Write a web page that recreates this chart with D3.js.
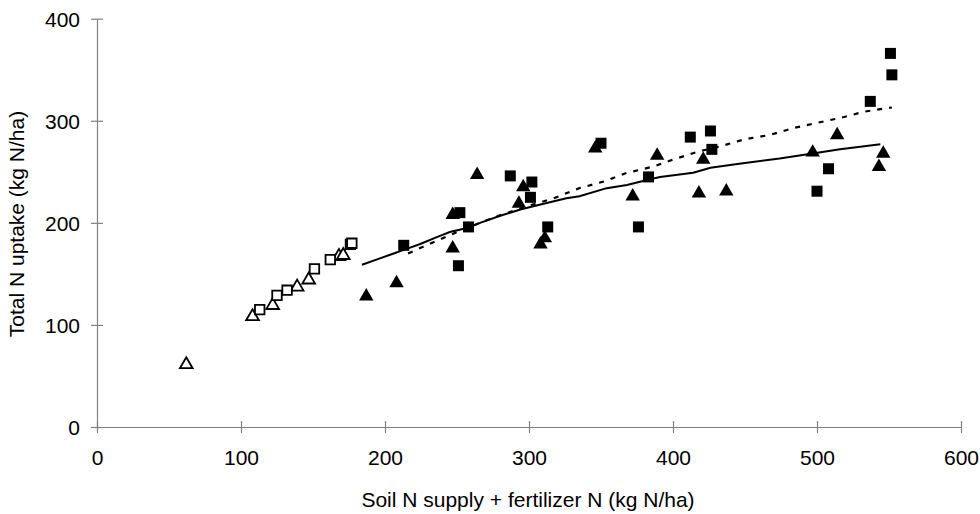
<!DOCTYPE html>
<html>
<head>
<meta charset="utf-8">
<script src="https://cdn.jsdelivr.net/npm/d3@7"></script>
<style>
  html, body { margin: 0; padding: 0; background: #fff; }
  svg { display: block; }
  text { font-family: "Liberation Sans", Arial, sans-serif; fill: #000; }
</style>
</head>
<body>
<svg id="chart" width="980" height="514"></svg>
<script>
// Tick values
const xTicks = [0, 100, 200, 300, 400, 500, 600];
const yTicks = [0, 100, 200, 300, 400];

// Observations: [N supply, N uptake]
const openTriangles = [[62,63],[108,110],[122,121],[139,139],[147,146],[168,169],[171,170]];
const openSquares   = [[113,115],[125,129],[132,134],[151,155],[162,164],[176,179],[177,180]];
const filledTriangles = [[187,130],[208,143],[247,177],[247,210],[264,249],[293,221],[296,237],
  [308,181],[311,187],[346,275],[372,228],[389,268],[418,231],[421,264],[437,233],
  [497,271],[514,288],[543,257],[546,270]];
const filledSquares = [[213,178],[251,158],[252,210],[258,196],[287,246],[301,225],[302,240],
  [313,196],[350,278],[376,196],[383,245],[412,284],[426,290],[427,272],[500,231],
  [508,253],[537,319],[551,366],[552,345]];

// Model curves
const solidLine = [[184,159],[196,165],[206,170],[214,174],[224,179],[236,186],[245,191],[257,195],
  [266,200],[280,207],[294,213],[308,218],[326,224],[335,226],[354,234],[368,237],[382,242],
  [391,245],[414,249],[426,254],[446,258],[474,263],[497,268],[516,272],[544,277]];
const dashedLine = [[216,170],[232,180],[250,191],[275,205],[298,216],[317,224],[335,234],[352,240.5],
  [368,249],[386,255],[400,262],[418,270],[433,275],[450,282],[467,286],[484,293],[500,298],
  [517,303],[533,309],[552,313]];

const svg = d3.select("#chart");
const x = d3.scaleLinear().domain([0, 600]).range([97, 961]);
const y = d3.scaleLinear().domain([0, 400]).range([427, 18.7]);
const axisColor = "#808080";

// X axis with ticks crossing the line
const gx = svg.append("g").attr("transform", `translate(0,${y(0)})`)
  .call(d3.axisBottom(x).tickValues(xTicks).tickSizeInner(6).tickSizeOuter(0).tickFormat(""));
gx.select(".domain").attr("stroke", axisColor).attr("stroke-width", 1.2);
gx.selectAll(".tick line").attr("stroke", axisColor).attr("stroke-width", 1.2).attr("y1", -6).attr("y2", 6);
gx.selectAll(".tick text").remove();
gx.selectAll(".tick").append("text")
  .attr("y", 465 - y(0)).attr("text-anchor", "middle")
  .style("font-size", "21px")
  .text(d => d);

// Y axis
const gy = svg.append("g").attr("transform", `translate(${x(0)},0)`)
  .call(d3.axisLeft(y).tickValues(yTicks).tickSizeInner(6).tickSizeOuter(0).tickFormat(""));
gy.select(".domain").attr("stroke", axisColor).attr("stroke-width", 1.2);
gy.selectAll(".tick line").attr("stroke", axisColor).attr("stroke-width", 1.2).attr("x1", -6).attr("x2", 6);
gy.selectAll(".tick text").remove();
gy.selectAll(".tick").append("text")
  .attr("x", 80 - x(0)).attr("dy", "0.36em").attr("text-anchor", "end")
  .style("font-size", "21px")
  .text(d => d);

// Axis titles
svg.append("text").attr("x", 528).attr("y", 507).attr("text-anchor", "middle")
  .style("font-size", "21px").text("Soil N supply + fertilizer N (kg N/ha)");
svg.append("text").attr("transform", "translate(24,224) rotate(-90)").attr("text-anchor", "middle")
  .style("font-size", "21px").text("Total N uptake (kg N/ha)");

// Curves
const line = d3.line().x(d => x(d[0])).y(d => y(d[1]));
svg.append("path").datum(solidLine).attr("d", line)
  .attr("fill", "none").attr("stroke", "#000").attr("stroke-width", 2);
svg.append("path").datum(dashedLine).attr("d", line)
  .attr("fill", "none").attr("stroke", "#000").attr("stroke-width", 2.2)
  .attr("stroke-dasharray", "5,7");

// Markers; triangles are shifted so their bounding box (not centroid) sits on the point
const triOffset = size => Math.sqrt(size / (Math.sqrt(3) * 3)) / 2;
const tri = d3.symbol().type(d3.symbolTriangle).size(90);
const sq = d3.symbol().type(d3.symbolSquare).size(121);
const triOpen = d3.symbol().type(d3.symbolTriangle).size(70);
const sqOpen = d3.symbol().type(d3.symbolSquare).size(90);

svg.append("g").selectAll("path").data(filledTriangles).join("path")
  .attr("d", tri).attr("transform", d => `translate(${x(d[0])},${y(d[1]) + triOffset(90)})`).attr("fill", "#000");
svg.append("g").selectAll("path").data(filledSquares).join("path")
  .attr("d", sq).attr("transform", d => `translate(${x(d[0])},${y(d[1])})`).attr("fill", "#000");
svg.append("g").selectAll("path").data(openTriangles).join("path")
  .attr("d", triOpen)
  .attr("transform", d => `translate(${x(d[0])},${y(d[1]) + triOffset(70)})`)
  .attr("fill", "#fff").attr("stroke", "#000").attr("stroke-width", 1.8);
svg.append("g").selectAll("path").data(openSquares).join("path")
  .attr("d", sqOpen)
  .attr("transform", d => `translate(${x(d[0])},${y(d[1])})`)
  .attr("fill", "#fff").attr("stroke", "#000").attr("stroke-width", 1.8);
</script>
</body>
</html>
